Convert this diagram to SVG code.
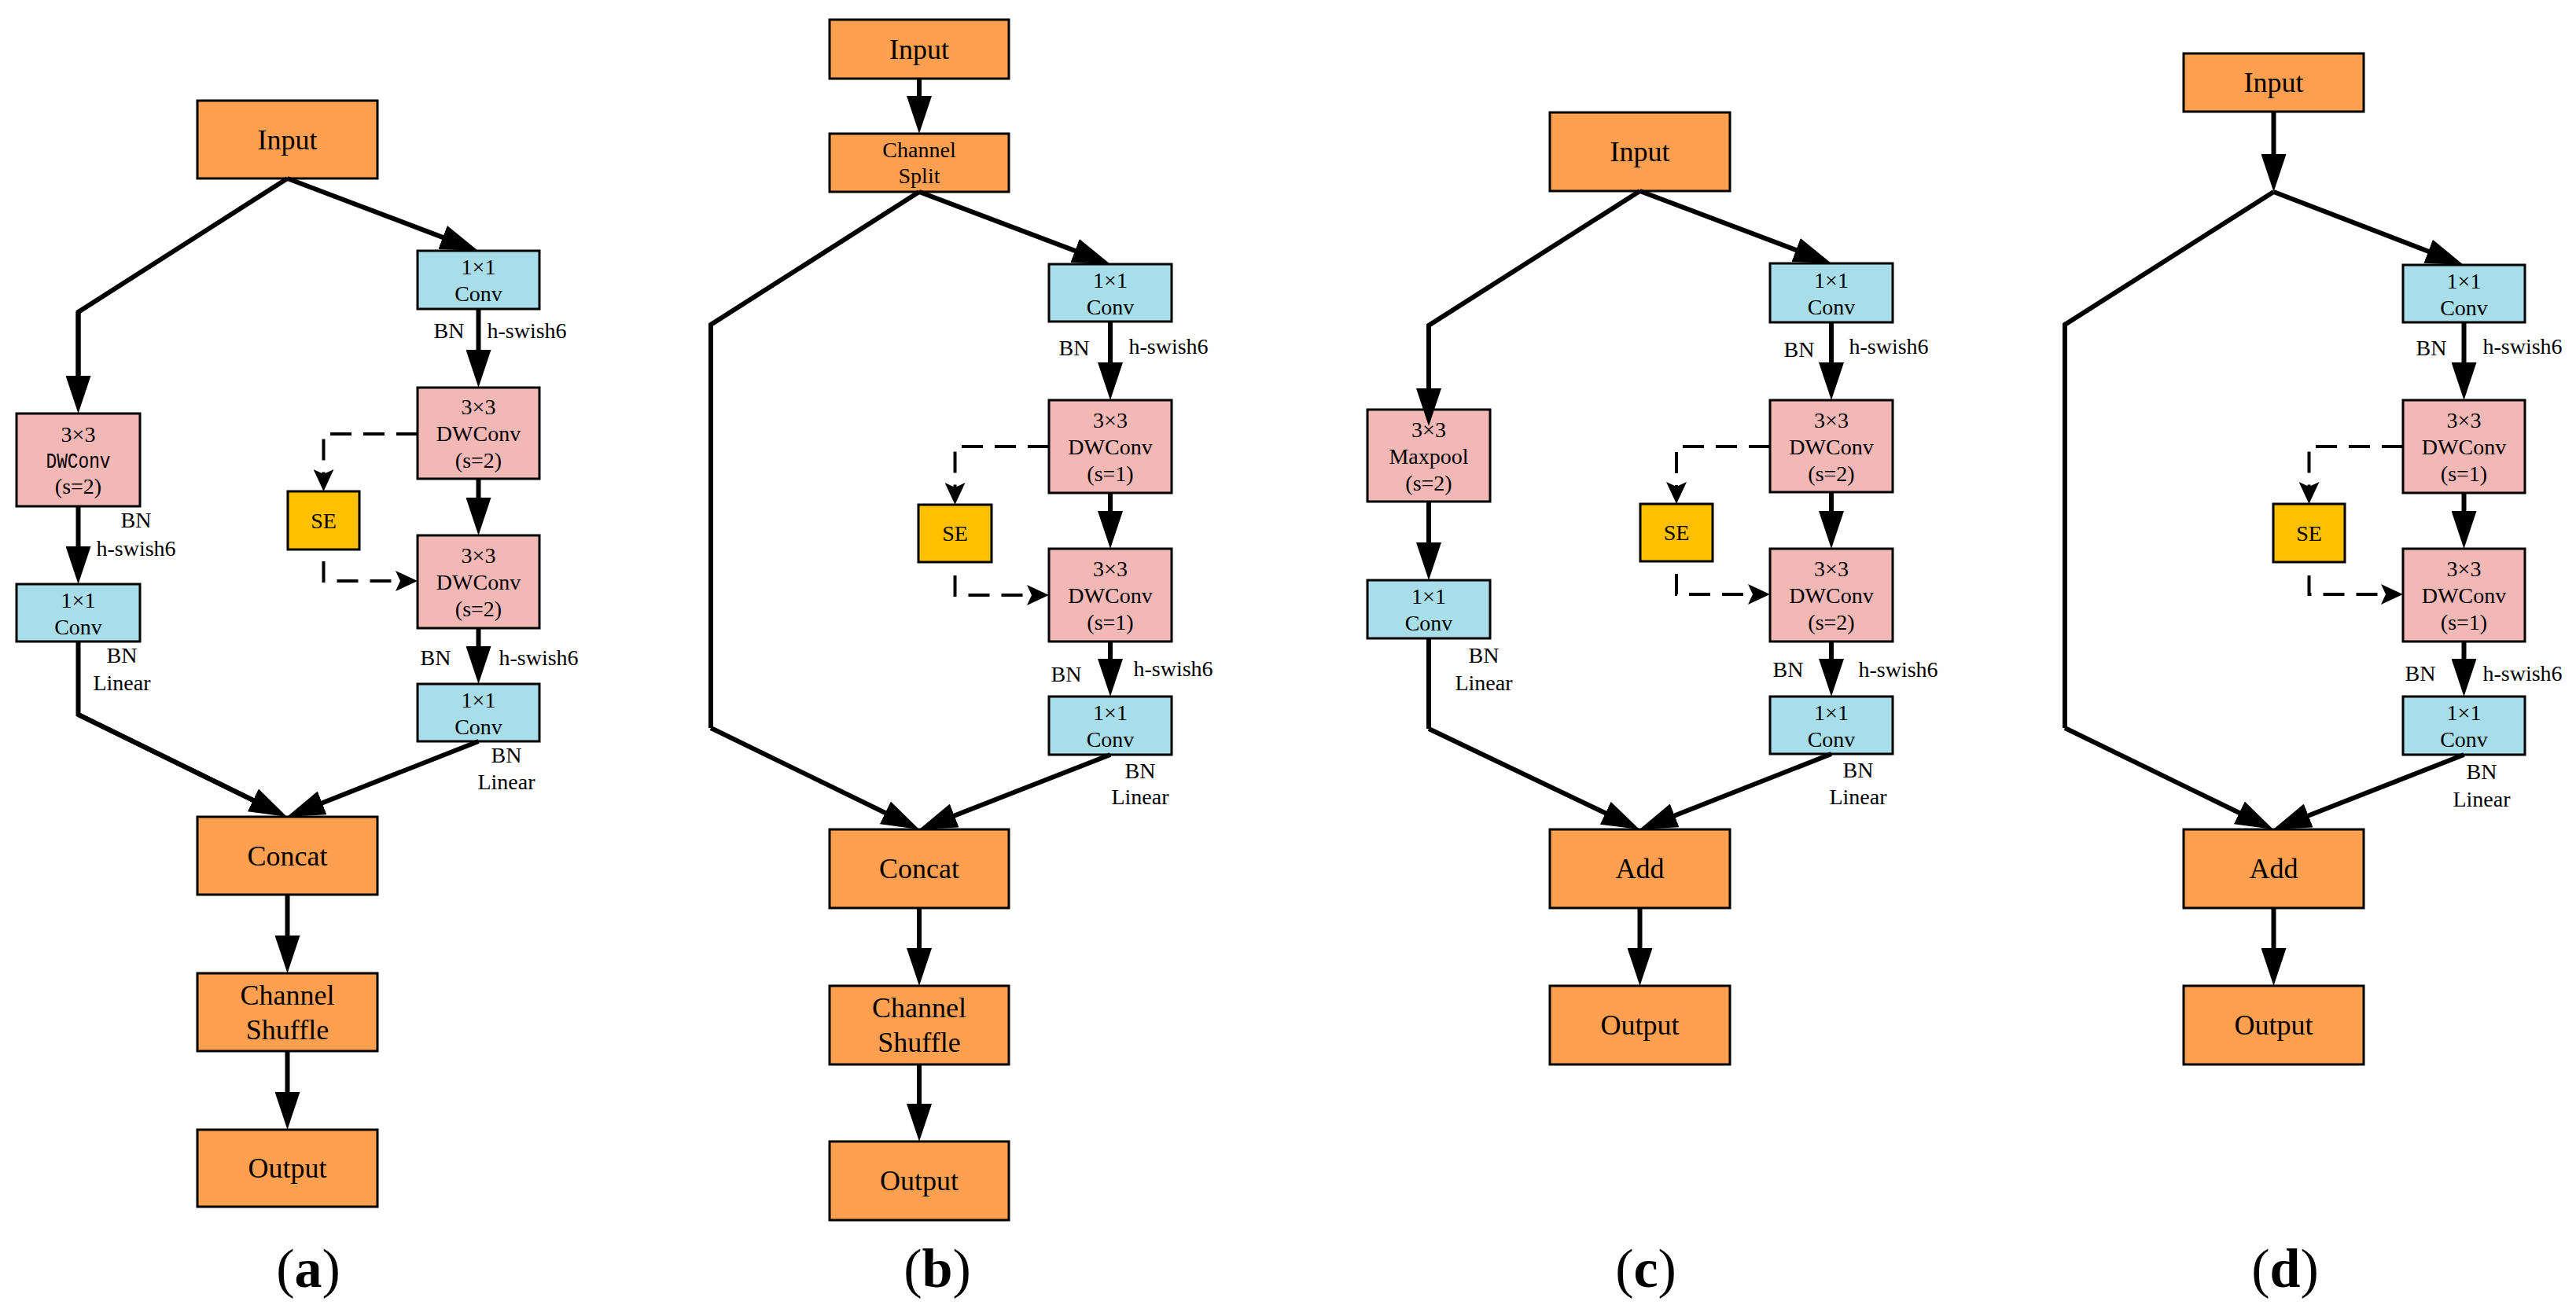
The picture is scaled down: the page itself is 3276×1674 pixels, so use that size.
<svg xmlns="http://www.w3.org/2000/svg" width="3276" height="1674" viewBox="0 0 3276 1674">
<defs>
<marker id="ah" viewBox="0 0 48 32" refX="28" refY="16" markerWidth="48" markerHeight="32" markerUnits="userSpaceOnUse" orient="auto"><path d="M0,0 L48,16 L0,32 Z" fill="#000"/></marker>
<marker id="ahs" viewBox="0 0 28 26" refX="18" refY="13" markerWidth="28" markerHeight="26" markerUnits="userSpaceOnUse" orient="auto"><path d="M0,0 L28,13 L0,26 L6,13 Z" fill="#000"/></marker>
<style>
rect{stroke:#000;stroke-width:3}
.o{fill:#FF9F50}.b{fill:#A8DEE9}.p{fill:#F2B8B5}.y{fill:#FFC000}
text{font-family:"Liberation Serif","Times New Roman",serif;fill:#000;text-anchor:middle}
.L{font-size:36px}.S{font-size:28px}.M{font-size:27px;font-family:"Liberation Mono","DejaVu Sans Mono",monospace}
.cap{font-size:70px}
.c{stroke:#000;stroke-width:6;fill:none;marker-end:url(#ah)}
.n{stroke:#000;stroke-width:6;fill:none}
.d{stroke:#000;stroke-width:4;fill:none;stroke-dasharray:27 15;marker-end:url(#ahs)}
</style>
</defs>

<!-- Panel (a) -->
<g id="a-input"><rect class="o" x="251" y="128" width="229" height="99"/><text class="L" x="365.5" y="190">Input</text></g>
<g id="a-conv1"><rect class="b" x="531" y="319" width="155" height="74"/><text class="S" x="608.5" y="349">1×1</text><text class="S" x="608.5" y="383">Conv</text></g>
<g id="a-dw1"><rect class="p" x="531" y="493" width="155" height="116"/><text class="S" x="608.5" y="527">3×3</text><text class="S" x="608.5" y="561">DWConv</text><text class="S" x="608.5" y="595">(s=2)</text></g>
<g id="a-se"><rect class="y" x="366" y="625" width="91" height="74"/><text class="S" x="411.5" y="672">SE</text></g>
<g id="a-dw2"><rect class="p" x="531" y="681" width="155" height="118"/><text class="S" x="608.5" y="716">3×3</text><text class="S" x="608.5" y="750">DWConv</text><text class="S" x="608.5" y="784">(s=2)</text></g>
<g id="a-conv2"><rect class="b" x="531" y="870" width="155" height="73"/><text class="S" x="608.5" y="900">1×1</text><text class="S" x="608.5" y="934">Conv</text></g>
<g id="a-ldw"><rect class="p" x="21" y="526" width="157" height="118"/><text class="S" x="99.5" y="562">3×3</text><text class="M" x="99.5" y="595" textLength="82" lengthAdjust="spacingAndGlyphs">DWConv</text><text class="S" x="99.5" y="628">(s=2)</text></g>
<g id="a-lconv"><rect class="b" x="21" y="743" width="157" height="73"/><text class="S" x="99.5" y="773">1×1</text><text class="S" x="99.5" y="807">Conv</text></g>
<g id="a-concat"><rect class="o" x="251" y="1039" width="229" height="99"/><text class="L" x="365.5" y="1101">Concat</text></g>
<g id="a-shuffle"><rect class="o" x="251" y="1238" width="229" height="99"/><text class="L" x="365.5" y="1278">Channel</text><text class="L" x="365.5" y="1322">Shuffle</text></g>
<g id="a-output"><rect class="o" x="251" y="1437" width="229" height="98"/><text class="L" x="365.5" y="1498">Output</text></g>
<g id="a-labels">
<text class="S" x="571" y="430">BN</text><text class="S" x="670" y="430">h-swish6</text>
<text class="S" x="173" y="671">BN</text><text class="S" x="173" y="707">h-swish6</text>
<text class="S" x="554" y="846">BN</text><text class="S" x="685" y="846">h-swish6</text>
<text class="S" x="155" y="843">BN</text><text class="S" x="155" y="878">Linear</text>
<text class="S" x="644" y="970">BN</text><text class="S" x="644" y="1004">Linear</text>
<text class="cap" x="392" y="1637">(<tspan font-weight="bold">a</tspan>)</text>
</g>

<!-- Panel (b) -->
<g id="b-input"><rect class="o" x="1055" y="25" width="228" height="75"/><text class="L" x="1169" y="75">Input</text></g>
<g id="b-split"><rect class="o" x="1055" y="170" width="228" height="74"/><text class="S" x="1169" y="200">Channel</text><text class="S" x="1169" y="233">Split</text></g>
<g id="b-conv1"><rect class="b" x="1334" y="336" width="156" height="73"/><text class="S" x="1412" y="366">1×1</text><text class="S" x="1412" y="400">Conv</text></g>
<g id="b-dw1"><rect class="p" x="1334" y="509" width="156" height="118"/><text class="S" x="1412" y="544">3×3</text><text class="S" x="1412" y="578">DWConv</text><text class="S" x="1412" y="612">(s=1)</text></g>
<g id="b-se"><rect class="y" x="1168" y="642" width="93" height="73"/><text class="S" x="1214.5" y="688">SE</text></g>
<g id="b-dw2"><rect class="p" x="1334" y="698" width="156" height="118"/><text class="S" x="1412" y="733">3×3</text><text class="S" x="1412" y="767">DWConv</text><text class="S" x="1412" y="801">(s=1)</text></g>
<g id="b-conv2"><rect class="b" x="1334" y="886" width="156" height="74"/><text class="S" x="1412" y="916">1×1</text><text class="S" x="1412" y="950">Conv</text></g>
<g id="b-concat"><rect class="o" x="1055" y="1055" width="228" height="100"/><text class="L" x="1169" y="1117">Concat</text></g>
<g id="b-shuffle"><rect class="o" x="1055" y="1254" width="228" height="100"/><text class="L" x="1169" y="1294">Channel</text><text class="L" x="1169" y="1338">Shuffle</text></g>
<g id="b-output"><rect class="o" x="1055" y="1452" width="228" height="100"/><text class="L" x="1169" y="1514">Output</text></g>
<g id="b-labels">
<text class="S" x="1366" y="452">BN</text><text class="S" x="1486" y="450">h-swish6</text>
<text class="S" x="1356" y="867">BN</text><text class="S" x="1492" y="860">h-swish6</text>
<text class="S" x="1450" y="990">BN</text><text class="S" x="1450" y="1023">Linear</text>
<text class="cap" x="1192" y="1637">(<tspan font-weight="bold">b</tspan>)</text>
</g>

<!-- Panel (c) -->
<g id="c-input"><rect class="o" x="1971" y="143" width="229" height="100"/><text class="L" x="2085.5" y="205">Input</text></g>
<g id="c-maxpool"><rect class="p" x="1739" y="521" width="156" height="117"/><text class="S" x="1817" y="556">3×3</text><text class="S" x="1817" y="590">Maxpool</text><text class="S" x="1817" y="624">(s=2)</text></g>
<g id="c-lconv"><rect class="b" x="1739" y="738" width="156" height="74"/><text class="S" x="1817" y="768">1×1</text><text class="S" x="1817" y="802">Conv</text></g>
<g id="c-conv1"><rect class="b" x="2251" y="335" width="156" height="75"/><text class="S" x="2329" y="366">1×1</text><text class="S" x="2329" y="400">Conv</text></g>
<g id="c-dw1"><rect class="p" x="2251" y="509" width="156" height="117"/><text class="S" x="2329" y="544">3×3</text><text class="S" x="2329" y="578">DWConv</text><text class="S" x="2329" y="612">(s=2)</text></g>
<g id="c-se"><rect class="y" x="2086" y="641" width="92" height="73"/><text class="S" x="2132" y="687">SE</text></g>
<g id="c-dw2"><rect class="p" x="2251" y="698" width="156" height="118"/><text class="S" x="2329" y="733">3×3</text><text class="S" x="2329" y="767">DWConv</text><text class="S" x="2329" y="801">(s=2)</text></g>
<g id="c-conv2"><rect class="b" x="2251" y="886" width="156" height="73"/><text class="S" x="2329" y="916">1×1</text><text class="S" x="2329" y="950">Conv</text></g>
<g id="c-add"><rect class="o" x="1971" y="1055" width="229" height="100"/><text class="L" x="2085.5" y="1117">Add</text></g>
<g id="c-output"><rect class="o" x="1971" y="1254" width="229" height="100"/><text class="L" x="2085.5" y="1316">Output</text></g>
<g id="c-labels">
<text class="S" x="2288" y="454">BN</text><text class="S" x="2402" y="450">h-swish6</text>
<text class="S" x="2274" y="861">BN</text><text class="S" x="2414" y="861">h-swish6</text>
<text class="S" x="1887" y="843">BN</text><text class="S" x="1887" y="878">Linear</text>
<text class="S" x="2363" y="989">BN</text><text class="S" x="2363" y="1023">Linear</text>
<text class="cap" x="2093" y="1637">(<tspan font-weight="bold">c</tspan>)</text>
</g>

<!-- Panel (d) -->
<g id="d-input"><rect class="o" x="2777" y="68" width="229" height="74"/><text class="L" x="2891.5" y="117">Input</text></g>
<g id="d-conv1"><rect class="b" x="3056" y="337" width="155" height="73"/><text class="S" x="3133.5" y="367">1×1</text><text class="S" x="3133.5" y="401">Conv</text></g>
<g id="d-dw1"><rect class="p" x="3056" y="509" width="155" height="118"/><text class="S" x="3133.5" y="544">3×3</text><text class="S" x="3133.5" y="578">DWConv</text><text class="S" x="3133.5" y="612">(s=1)</text></g>
<g id="d-se"><rect class="y" x="2891" y="641" width="91" height="74"/><text class="S" x="2936.5" y="688">SE</text></g>
<g id="d-dw2"><rect class="p" x="3056" y="698" width="155" height="118"/><text class="S" x="3133.5" y="733">3×3</text><text class="S" x="3133.5" y="767">DWConv</text><text class="S" x="3133.5" y="801">(s=1)</text></g>
<g id="d-conv2"><rect class="b" x="3056" y="886" width="155" height="74"/><text class="S" x="3133.5" y="916">1×1</text><text class="S" x="3133.5" y="950">Conv</text></g>
<g id="d-add"><rect class="o" x="2777" y="1055" width="229" height="100"/><text class="L" x="2891.5" y="1117">Add</text></g>
<g id="d-output"><rect class="o" x="2777" y="1254" width="229" height="100"/><text class="L" x="2891.5" y="1316">Output</text></g>
<g id="d-labels">
<text class="S" x="3092" y="452">BN</text><text class="S" x="3208" y="450">h-swish6</text>
<text class="S" x="3078" y="866">BN</text><text class="S" x="3208" y="866">h-swish6</text>
<text class="S" x="3156" y="991">BN</text><text class="S" x="3156" y="1026">Linear</text>
<text class="cap" x="2906" y="1637">(<tspan font-weight="bold">d</tspan>)</text>
</g>

<g id="connectors">
<!-- panel a -->
<path class="n" d="M365.5,227 L99.5,397 L99.5,500"/>
<path class="c" d="M99.5,397 L99.5,506"/>
<path class="c" d="M365.5,227 L589.3,311.9"/>
<path class="c" d="M608.5,393 V473"/>
<path class="c" d="M608.5,609 V661"/>
<path class="c" d="M608.5,799 V850"/>
<path class="c" d="M99.5,644 V723"/>
<path class="n" d="M99.5,816 V909 L347,1030.2"/>
<path class="c" d="M99.5,909 L347,1030.2"/>
<path class="c" d="M608.5,943 L383.6,1031.7"/>
<path class="c" d="M365.5,1138 V1218"/>
<path class="c" d="M365.5,1337 V1417"/>
<path class="d" d="M531,552 H411.5 V615"/>
<path class="d" d="M411.5,714 V739 H521"/>
<!-- panel b -->
<path class="c" d="M1169,100 V150"/>
<path class="n" d="M1169,244 L904,413 V926"/>
<path class="c" d="M1169,244 L1393.3,328.9"/>
<path class="c" d="M904,926 L1151,1046.2"/>
<path class="c" d="M1412,409 V489"/>
<path class="c" d="M1412,627 V678"/>
<path class="c" d="M1412,816 V866"/>
<path class="c" d="M1412,960 L1187.6,1047.7"/>
<path class="c" d="M1169,1155 V1234"/>
<path class="c" d="M1169,1354 V1432"/>
<path class="d" d="M1334,568 H1214.5 V632"/>
<path class="d" d="M1214.5,732 V757 H1324"/>
<!-- panel c -->
<path class="n" d="M2085.5,243 L1817,414 V520"/>
<path class="c" d="M1817,414 V522"/>
<path class="c" d="M2085.5,243 L2310.3,327.9"/>
<path class="c" d="M1817,638 V718"/>
<path class="n" d="M1817,812 V927"/>
<path class="c" d="M1817,927 L2067,1046.4"/>
<path class="c" d="M2329,410 V489"/>
<path class="c" d="M2329,626 V678"/>
<path class="c" d="M2329,816 V866"/>
<path class="c" d="M2329,959 L2103.6,1047.7"/>
<path class="c" d="M2085.5,1155 V1234"/>
<path class="d" d="M2251,568 H2132 V631"/>
<path class="d" d="M2132,730 V756 H2241"/>
<!-- panel d -->
<path class="c" d="M2891.5,142 V224"/>
<path class="n" d="M2891.5,244 L2626,413 V926"/>
<path class="c" d="M2891.5,244 L3114.3,329.8"/>
<path class="c" d="M2626,926 L2873,1046.2"/>
<path class="c" d="M3133.5,410 V489"/>
<path class="c" d="M3133.5,627 V678"/>
<path class="c" d="M3133.5,816 V866"/>
<path class="c" d="M3133.5,960 L2909.6,1047.7"/>
<path class="c" d="M2891.5,1155 V1234"/>
<path class="d" d="M3056,568 H2936.5 V631"/>
<path class="d" d="M2936.5,732 V756 H3046"/>
</g>
</svg>
